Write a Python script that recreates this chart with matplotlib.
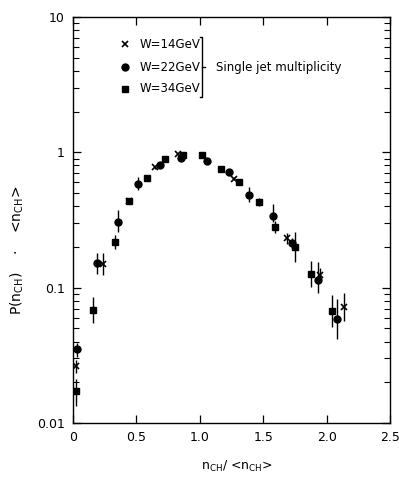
import matplotlib
matplotlib.use("Agg")
import matplotlib.pyplot as plt
from matplotlib.ticker import FixedLocator, LogLocator, NullFormatter, FixedFormatter

# W = 14 GeV (crosses)
x14 = [0.02, 0.24, 0.442, 0.647, 0.83, 1.27, 1.69, 1.95, 2.14]
y14 = [0.0264, 0.15, 0.44, 0.778, 0.97, 0.64, 0.232, 0.125, 0.072]
e14_lo = [0.003, 0.025, 0.02, 0.02, 0.02, 0.02, 0.02, 0.015, 0.015]
e14_hi = [0.003, 0.03, 0.02, 0.02, 0.02, 0.02, 0.02, 0.015, 0.02]

# W = 22 GeV (circles)
x22 = [0.034, 0.19, 0.357, 0.515, 0.686, 0.849, 1.06, 1.233, 1.388, 1.575, 1.725, 1.935, 2.085]
y22 = [0.035, 0.151, 0.308, 0.586, 0.80, 0.91, 0.87, 0.714, 0.486, 0.336, 0.213, 0.114, 0.059]
e22_lo = [0.004, 0.025, 0.05, 0.06, 0.03, 0.03, 0.02, 0.02, 0.06, 0.03, 0.02, 0.023, 0.017]
e22_hi = [0.004, 0.03, 0.07, 0.07, 0.03, 0.03, 0.02, 0.02, 0.07, 0.08, 0.02, 0.04, 0.023]

# W = 34 GeV (squares)
x34 = [0.02, 0.155, 0.331, 0.442, 0.586, 0.726, 0.87, 1.02, 1.165, 1.307, 1.47, 1.595, 1.75, 1.88, 2.04]
y34 = [0.0173, 0.068, 0.217, 0.439, 0.645, 0.898, 0.96, 0.95, 0.757, 0.60, 0.428, 0.283, 0.20, 0.126, 0.067]
e34_lo = [0.004, 0.013, 0.025, 0.02, 0.02, 0.02, 0.02, 0.02, 0.02, 0.03, 0.03, 0.03, 0.045, 0.025, 0.016]
e34_hi = [0.004, 0.017, 0.03, 0.02, 0.02, 0.02, 0.02, 0.02, 0.02, 0.03, 0.03, 0.03, 0.058, 0.032, 0.022]

labels = ["W=14GeV", "W=22GeV", "W=34GeV"]
xticks = [0, 0.5, 1.0, 1.5, 2.0, 2.5]
xticklabels = ["0", "0.5", "1.0", "1.5", "2.0", "2.5"]
yticks = [0.01, 0.1, 1, 10]
yticklabels = ["0.01", "0.1", "1", "10"]

plt.rcParams['font.family'] = ['DejaVu Sans']
fig = plt.figure(figsize=(3.99, 4.78), dpi=100)
ax = fig.add_axes([73/399, 1 - 423/478, (390 - 73)/399, (423 - 17)/478])

ax.errorbar(x14, y14, yerr=[e14_lo, e14_hi], fmt='x', color='black', ms=4, mew=1.2,
            elinewidth=1.0, capsize=0)
ax.errorbar(x22, y22, yerr=[e22_lo, e22_hi], fmt='o', color='black', ms=5,
            elinewidth=1.0, capsize=0)
ax.errorbar(x34, y34, yerr=[e34_lo, e34_hi], fmt='s', color='black', ms=5,
            elinewidth=1.0, capsize=0)

ax.set_yscale('log')
ax.set_xlim(0, 2.5)
ax.set_ylim(0.01, 10)
ax.xaxis.set_major_locator(FixedLocator(xticks))
ax.xaxis.set_major_formatter(FixedFormatter(xticklabels))
ax.yaxis.set_major_locator(FixedLocator(yticks))
ax.yaxis.set_major_formatter(FixedFormatter(yticklabels))
ax.yaxis.set_minor_locator(LogLocator(base=10, subs=range(2, 10)))
ax.yaxis.set_minor_formatter(NullFormatter())
ax.tick_params(which='both', direction='in', top=True, right=True, labelsize=9, pad=6)
ax.tick_params(which='major', length=6, width=0.9)
ax.tick_params(which='minor', length=4, width=0.8)
for s in ax.spines.values():
    s.set_linewidth(1.0)

# legend
lx_m = 125 / 399
lx_t = 140 / 399
rows = [44, 67, 89]
mk = [dict(marker='x', ms=4, mew=1.2), dict(marker='o', ms=5), dict(marker='s', ms=5)]
for r, lab, m in zip(rows, labels, mk):
    yy = 1 - r / 478
    fig.lines.append(plt.Line2D([lx_m], [yy], color='black', linestyle='none',
                                transform=fig.transFigure, **m))
    fig.text(lx_t, yy, lab, fontsize=8.5, va='center', ha='left')
# bracket
bx = 202 / 399
fig.lines.append(plt.Line2D([bx - 0.006, bx, bx, bx - 0.006],
                            [1 - 37/478, 1 - 37/478, 1 - 97/478, 1 - 97/478],
                            color='black', lw=1.0, transform=fig.transFigure))
fig.lines.append(plt.Line2D([bx, bx + 0.008], [1 - 67/478, 1 - 67/478],
                            color='black', lw=1.0, transform=fig.transFigure))
fig.text(216/399, 1 - 68/478, "Single jet multiplicity", fontsize=8.5, va='center', ha='left')

fig.text(237/399, 1 - 466/478, r"n$_{\mathregular{CH}}$/ <n$_{\mathregular{CH}}$>",
         fontsize=9, ha='center', va='center')
fig.text(17/399, 1 - 250/478, r"P(n$_{\mathregular{CH}}$)    ·    <n$_{\mathregular{CH}}$>",
         fontsize=10, ha='center', va='center', rotation=90)

fig.savefig("out.png", dpi=100)
